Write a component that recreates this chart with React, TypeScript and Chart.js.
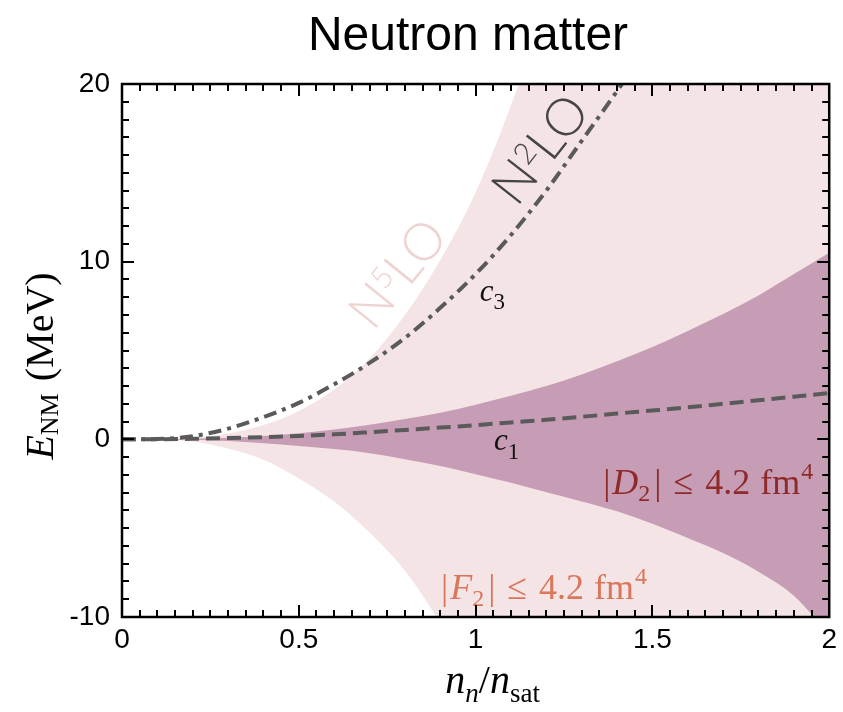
import React, { useEffect, useRef } from 'react';
import { Chart, registerables } from 'chart.js';

Chart.register(...registerables);

// ---- data ----
const xValues = [0, 0.1, 0.2, 0.3, 0.4, 0.5, 0.6, 0.7, 0.8, 0.9, 1.0, 1.1, 1.2, 1.3, 1.4, 1.5, 1.6, 1.7, 1.8, 1.9, 2.0];

// |F2| <= 4.2 fm^4 band (light)
const f2Upper = [0, 0.01, 0.09, 0.33, 0.8, 1.6, 2.8, 4.55, 7.0, 10.1, 13.9, 18.8, 24.6, 31.5, 40, 50, 61, 73, 87, 103, 120];
const f2Lower = [0, -0.02, -0.12, -0.52, -1.15, -2.2, -3.5, -5.25, -7.4, -10.35, -14, -18.5, -24, -30, -37, -45, -54, -64, -75, -87, -100];

// |D2| <= 4.2 fm^4 band (dark)
const d2Upper = [0, 0.005, 0.03, 0.09, 0.19, 0.34, 0.55, 0.82, 1.15, 1.5, 1.95, 2.45, 3.0, 3.65, 4.4, 5.2, 6.1, 7.05, 8.1, 9.3, 10.5];
const d2Lower = [0, -0.005, -0.03, -0.1, -0.22, -0.37, -0.55, -0.78, -1.12, -1.5, -1.97, -2.45, -2.98, -3.5, -4.05, -4.75, -5.55, -6.4, -7.45, -8.8, -11.0];

// c1 (dashed) and c3 (dash-dot) lines
const c1Values = [0, 0.005, 0.03, 0.07, 0.12, 0.19, 0.28, 0.4, 0.53, 0.66, 0.8, 0.95, 1.1, 1.27, 1.45, 1.62, 1.8, 2.0, 2.2, 2.4, 2.6];
const c3Values = [0, 0.02, 0.18, 0.6, 1.25, 2.05, 3.1, 4.3, 5.7, 7.4, 9.3, 11.5, 14.0, 16.8, 19.6, 22.5];

// axis ticks
const xMin = 0, xMax = 2, xStep = 0.05;
const yMin = -10, yMax = 20, yStep = 1;
const xMajorLabels = ['0', '0.5', '1', '1.5', '2'];
const yMajorLabels = ['-10', '0', '10', '20'];

// ---- styles ----
const PINK = '#f5e4e5';
const MAUVE = '#c69db5';
const LINE = '#5a5a5a';
const SERIF = '"Liberation Serif", "Times New Roman", serif';
const SANS = '"Liberation Sans", Arial, sans-serif';
const LIGHT = 'Lato, "Open Sans", sans-serif';

type Run = { t: string; font: string; dy?: number; gap?: number };

function runsWidth(ctx: CanvasRenderingContext2D, runs: Run[]) {
  let w = 0;
  for (const r of runs) {
    ctx.font = r.font;
    w += ctx.measureText(r.t).width + (r.gap || 0);
  }
  return w;
}

function drawRuns(ctx: CanvasRenderingContext2D, runs: Run[], x: number, y: number, align: 'left' | 'center' | 'right', color: string) {
  const w = runsWidth(ctx, runs);
  let cx = align === 'left' ? x : align === 'center' ? x - w / 2 : x - w;
  ctx.fillStyle = color;
  ctx.textAlign = 'left';
  for (const r of runs) {
    ctx.font = r.font;
    ctx.fillText(r.t, cx, y + (r.dy || 0));
    cx += ctx.measureText(r.t).width + (r.gap || 0);
  }
}

const pts = (ys: number[]) => ys.map((y, i) => ({ x: xValues[i], y }));

const bandLabel = (sym: string): Run[] => [
  { t: '|', font: `36px ${SERIF}`, gap: 2 },
  { t: sym, font: `italic 36px ${SERIF}` },
  { t: '2', font: `24px ${SERIF}`, dy: 7, gap: 4 },
  { t: '|', font: `36px ${SERIF}`, gap: 12 },
  { t: '≤', font: `36px ${SERIF}`, gap: 12 },
  { t: '4.2', font: `36px ${SERIF}`, gap: 10 },
  { t: 'fm', font: `36px ${SERIF}`, gap: 1 },
  { t: '4', font: `24px ${SERIF}`, dy: -15 },
];

const decorPlugin = {
  id: 'decor',
  afterDatasetsDraw(chart: any) {
    const { ctx, chartArea: a, scales } = chart;
    const xs = scales.x, ys = scales.y;
    const P = (x: number, y: number) => [xs.getPixelForValue(x), ys.getPixelForValue(y)];
    ctx.save();
    ctx.textBaseline = 'alphabetic';

    // curve labels
    let [px, py] = P(1.012, 7.8);
    drawRuns(ctx, [
      { t: 'c', font: `italic 31px ${SERIF}` },
      { t: '3', font: `23px ${SERIF}`, dy: 8 },
    ], px, py, 'left', '#111');

    [px, py] = P(1.052, -0.62);
    drawRuns(ctx, [
      { t: 'c', font: `italic 31px ${SERIF}` },
      { t: '1', font: `23px ${SERIF}`, dy: 9 },
    ], px, py, 'left', '#111');

    [px, py] = P(1.955, -3.1);
    drawRuns(ctx, bandLabel('D'), px, py, 'right', '#8e2a2a');

    [px, py] = P(0.902, -9.0);
    drawRuns(ctx, bandLabel('F'), px, py, 'left', '#d9775a');

    // rotated order labels
    const rotLabel = (x: number, y: number, sup: string, color: string, angle: number) => {
      const [cx, cy] = P(x, y);
      ctx.save();
      ctx.translate(cx, cy);
      ctx.rotate(angle * Math.PI / 180);
      ctx.textBaseline = 'middle';
      drawRuns(ctx, [
        { t: 'N', font: `300 52px ${LIGHT}` },
        { t: sup, font: `300 30px ${LIGHT}`, dy: -10 },
        { t: 'LO', font: `300 52px ${LIGHT}` },
      ], 0, 0, 'center', color);
      ctx.restore();
    };
    rotLabel(1.185, 16.3, '2', '#454545', -52);
    rotLabel(0.782, 9.3, '5', '#eed3d1', -51);

    // inward ticks on all four sides
    ctx.strokeStyle = '#000';
    ctx.lineWidth = 2;
    ctx.beginPath();
    xs.ticks.forEach((t: any) => {
      const p = Math.round(xs.getPixelForValue(t.value));
      const L = t.label !== '' ? 12 : 7;
      ctx.moveTo(p, a.bottom); ctx.lineTo(p, a.bottom - L);
      ctx.moveTo(p, a.top); ctx.lineTo(p, a.top + L);
    });
    ys.ticks.forEach((t: any) => {
      const p = Math.round(ys.getPixelForValue(t.value));
      const L = t.label !== '' ? 12 : 7;
      ctx.moveTo(a.left, p); ctx.lineTo(a.left + L, p);
      ctx.moveTo(a.right, p); ctx.lineTo(a.right - L, p);
    });
    ctx.stroke();
    ctx.lineWidth = 2.5;
    ctx.strokeRect(a.left, a.top, a.right - a.left, a.bottom - a.top);
    ctx.restore();
  },
  afterDraw(chart: any) {
    const { ctx, chartArea: a } = chart;
    ctx.save();
    ctx.textBaseline = 'alphabetic';
    // title
    ctx.fillStyle = '#000';
    ctx.font = `48px ${SANS}`;
    ctx.textAlign = 'center';
    ctx.fillText('Neutron matter', 468, 50);

    // x title
    drawRuns(ctx, [
      { t: 'n', font: `italic 40px ${SERIF}` },
      { t: 'n', font: `italic 27px ${SERIF}`, dy: 9 },
      { t: '/', font: `40px ${SERIF}` },
      { t: 'n', font: `italic 40px ${SERIF}` },
      { t: 'sat', font: `27px ${SERIF}`, dy: 9 },
    ], (a.left + a.right) / 2 + 17, 693, 'center', '#000');

    // y title
    ctx.translate(42, 366);
    ctx.rotate(-Math.PI / 2);
    ctx.textBaseline = 'middle';
    drawRuns(ctx, [
      { t: 'E', font: `italic 40px ${SERIF}` },
      { t: 'NM', font: `26px ${SERIF}`, dy: 9, gap: 12 },
      { t: '(MeV)', font: `40px ${SERIF}` },
    ], 0, 0, 'center', '#000');
    ctx.restore();
  },
};

export default function App() {
  const ref = useRef<HTMLCanvasElement>(null);
  useEffect(() => {
    const chart = new Chart(ref.current as HTMLCanvasElement, {
      type: 'line',
      data: {
        datasets: [
          {
            label: 'c3', data: pts(c3Values), borderColor: LINE, borderWidth: 4,
            borderDash: [13, 6, 4, 6], pointRadius: 0, fill: false, order: 0,
            cubicInterpolationMode: 'monotone',
          },
          {
            label: 'c1', data: pts(c1Values), borderColor: LINE, borderWidth: 4,
            borderDash: [14, 7], pointRadius: 0, fill: false, order: 0,
            cubicInterpolationMode: 'monotone',
          },
          {
            label: 'D2 upper', data: pts(d2Upper), borderColor: 'rgba(0,0,0,0)', borderWidth: 0,
            backgroundColor: MAUVE, fill: 3, pointRadius: 0, order: 1, cubicInterpolationMode: 'monotone',
          },
          {
            label: 'D2 lower', data: pts(d2Lower), borderColor: 'rgba(0,0,0,0)', borderWidth: 0,
            fill: false, pointRadius: 0, order: 1, cubicInterpolationMode: 'monotone',
          },
          {
            label: 'F2 upper', data: pts(f2Upper), borderColor: 'rgba(0,0,0,0)', borderWidth: 0,
            backgroundColor: PINK, fill: 5, pointRadius: 0, order: 2, cubicInterpolationMode: 'monotone',
          },
          {
            label: 'F2 lower', data: pts(f2Lower), borderColor: 'rgba(0,0,0,0)', borderWidth: 0,
            fill: false, pointRadius: 0, order: 2, cubicInterpolationMode: 'monotone',
          },
        ],
      } as any,
      options: {
        responsive: false,
        animation: false,
        events: [],
        layout: { padding: { left: 0, right: 7, top: 84, bottom: 0 } },
        plugins: { legend: { display: false }, tooltip: { enabled: false }, title: { display: false } },
        scales: {
          x: {
            type: 'linear', min: xMin, max: xMax,
            grid: { display: false, drawTicks: false },
            border: { display: false },
            afterFit: (s: any) => { s.height = 95; },
            ticks: {
              stepSize: xStep, autoSkip: false, maxRotation: 0, padding: 6,
              color: '#000', font: { family: SANS, size: 28 },
              callback: (v: any) => {
                const r = Math.round(Number(v) * 100);
                const s = String(r / 100);
                return r % 50 === 0 && xMajorLabels.includes(s) ? s : '';
              },
            },
          },
          y: {
            type: 'linear', min: yMin, max: yMax,
            grid: { display: false, drawTicks: false },
            border: { display: false },
            afterFit: (s: any) => { s.width = 122; },
            ticks: {
              stepSize: yStep, autoSkip: false, padding: 12,
              color: '#000', font: { family: SANS, size: 28 },
              callback: (v: any) => {
                const s = String(Math.round(Number(v)));
                return yMajorLabels.includes(s) ? s : '';
              },
            },
          },
        },
      } as any,
      plugins: [decorPlugin],
    });
    return () => chart.destroy();
  }, []);
  return (
    <div style={{ position: 'absolute', left: 0, top: 0, width: 843, height: 712 }}>
      <canvas ref={ref} width={843} height={712} />
    </div>
  );
}
